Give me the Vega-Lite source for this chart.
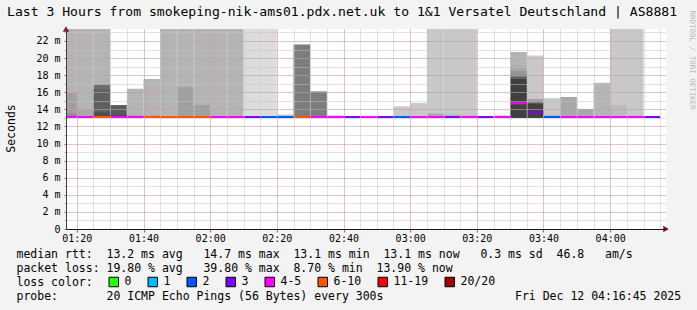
{
  "$schema": "https://vega.github.io/schema/vega-lite/v6.json",
  "width": 600,
  "height": 200,
  "autosize": {"type": "none"},
  "padding": {"left": 66, "top": 29, "right": 31, "bottom": 81},
  "background": "#f3f3f3",
  "config": {
    "view": {"fill": "white", "stroke": null},
    "font": "DejaVu Sans Mono",
    "axis": {"labelFont": "DejaVu Sans Mono", "titleFont": "DejaVu Sans Mono", "labelColor": "black", "titleColor": "black", "titleFontWeight": "normal"}
  },
  "title": {
    "text": "Last 3 Hours from smokeping-nik-ams01.pdx.net.uk to 1&1 Versatel Deutschland | AS8881",
    "anchor": "start", "frame": "group", "dx": -59, "offset": -15,
    "font": "DejaVu Sans Mono", "fontSize": 13.1, "fontWeight": "normal", "color": "black", "baseline": "middle"
  },
  "datasets": {
    "smoke": [
      {"start": 75, "end": 80, "lo": 13.0, "hi": 23.4, "density": 4},
      {"start": 75, "end": 80, "lo": 13.0, "hi": 15.9, "density": 6},
      {"start": 75, "end": 80, "lo": 13.0, "hi": 13.5, "density": 8},
      {"start": 80, "end": 85, "lo": 13.0, "hi": 23.4, "density": 4},
      {"start": 80, "end": 85, "lo": 13.0, "hi": 14.0, "density": 5},
      {"start": 85, "end": 90, "lo": 13.0, "hi": 23.4, "density": 4},
      {"start": 85, "end": 90, "lo": 13.0, "hi": 16.9, "density": 11},
      {"start": 85, "end": 90, "lo": 13.0, "hi": 16.35, "density": 12},
      {"start": 85, "end": 90, "lo": 13.0, "hi": 13.65, "density": 14},
      {"start": 90, "end": 95, "lo": 13.0, "hi": 14.5, "density": 13},
      {"start": 90, "end": 95, "lo": 13.0, "hi": 13.4, "density": 14},
      {"start": 95, "end": 100, "lo": 13.0, "hi": 16.4, "density": 4},
      {"start": 95, "end": 100, "lo": 13.0, "hi": 13.3, "density": 6},
      {"start": 100, "end": 105, "lo": 13.0, "hi": 17.55, "density": 4},
      {"start": 100, "end": 105, "lo": 13.0, "hi": 13.3, "density": 6},
      {"start": 105, "end": 110, "lo": 13.0, "hi": 23.4, "density": 4},
      {"start": 110, "end": 115, "lo": 13.0, "hi": 23.4, "density": 4},
      {"start": 110, "end": 115, "lo": 13.0, "hi": 16.6, "density": 6},
      {"start": 115, "end": 120, "lo": 13.0, "hi": 23.4, "density": 4},
      {"start": 115, "end": 120, "lo": 13.0, "hi": 14.5, "density": 6},
      {"start": 120, "end": 125, "lo": 13.0, "hi": 23.4, "density": 4},
      {"start": 125, "end": 130, "lo": 13.0, "hi": 23.4, "density": 4},
      {"start": 130, "end": 135, "lo": 13.0, "hi": 23.4, "density": 1},
      {"start": 135, "end": 140, "lo": 13.0, "hi": 23.4, "density": 1},
      {"start": 140, "end": 145, "lo": 13.0, "hi": 13.4, "density": 2},
      {"start": 145, "end": 150, "lo": 13.0, "hi": 21.6, "density": 10},
      {"start": 150, "end": 155, "lo": 13.0, "hi": 16.1, "density": 10},
      {"start": 155, "end": 160, "lo": 13.0, "hi": 13.3, "density": 2},
      {"start": 175, "end": 180, "lo": 13.0, "hi": 14.35, "density": 2},
      {"start": 180, "end": 185, "lo": 13.0, "hi": 14.75, "density": 2},
      {"start": 185, "end": 190, "lo": 13.0, "hi": 23.4, "density": 2},
      {"start": 185, "end": 190, "lo": 13.0, "hi": 13.5, "density": 5},
      {"start": 190, "end": 195, "lo": 13.0, "hi": 23.4, "density": 2},
      {"start": 190, "end": 195, "lo": 13.0, "hi": 13.4, "density": 4},
      {"start": 195, "end": 200, "lo": 13.0, "hi": 23.4, "density": 2},
      {"start": 195, "end": 200, "lo": 13.0, "hi": 13.3, "density": 4},
      {"start": 205, "end": 210, "lo": 13.0, "hi": 13.3, "density": 2},
      {"start": 210, "end": 215, "lo": 13.0, "hi": 20.7, "density": 4},
      {"start": 210, "end": 215, "lo": 13.0, "hi": 19.0, "density": 5},
      {"start": 210, "end": 215, "lo": 13.0, "hi": 18.5, "density": 7},
      {"start": 210, "end": 215, "lo": 13.0, "hi": 18.07, "density": 9},
      {"start": 210, "end": 215, "lo": 13.0, "hi": 17.8, "density": 12},
      {"start": 210, "end": 215, "lo": 13.0, "hi": 17.55, "density": 15},
      {"start": 215, "end": 220, "lo": 13.0, "hi": 20.3, "density": 2},
      {"start": 215, "end": 220, "lo": 13.0, "hi": 15.2, "density": 6},
      {"start": 215, "end": 220, "lo": 13.0, "hi": 14.95, "density": 9},
      {"start": 215, "end": 220, "lo": 13.0, "hi": 14.7, "density": 15},
      {"start": 220, "end": 225, "lo": 13.0, "hi": 15.3, "density": 2},
      {"start": 220, "end": 225, "lo": 13.0, "hi": 13.3, "density": 4},
      {"start": 225, "end": 230, "lo": 13.0, "hi": 15.45, "density": 5},
      {"start": 230, "end": 235, "lo": 13.0, "hi": 14.05, "density": 5},
      {"start": 235, "end": 240, "lo": 13.0, "hi": 17.1, "density": 4},
      {"start": 240, "end": 245, "lo": 13.0, "hi": 23.4, "density": 2},
      {"start": 240, "end": 245, "lo": 13.0, "hi": 14.5, "density": 3},
      {"start": 245, "end": 250, "lo": 13.0, "hi": 23.4, "density": 2},
      {"start": 245, "end": 250, "lo": 13.0, "hi": 13.3, "density": 3}
    ],
    "median": [
      {"start": 75, "end": 80, "rtt": 13.1, "loss": "4-5"},
      {"start": 80, "end": 85, "rtt": 13.1, "loss": "4-5"},
      {"start": 85, "end": 90, "rtt": 13.1, "loss": "6-10"},
      {"start": 90, "end": 95, "rtt": 13.1, "loss": "4-5"},
      {"start": 95, "end": 100, "rtt": 13.1, "loss": "4-5"},
      {"start": 100, "end": 105, "rtt": 13.1, "loss": "6-10"},
      {"start": 105, "end": 110, "rtt": 13.1, "loss": "6-10"},
      {"start": 110, "end": 115, "rtt": 13.1, "loss": "6-10"},
      {"start": 115, "end": 120, "rtt": 13.1, "loss": "6-10"},
      {"start": 120, "end": 125, "rtt": 13.1, "loss": "4-5"},
      {"start": 125, "end": 130, "rtt": 13.1, "loss": "4-5"},
      {"start": 130, "end": 135, "rtt": 13.1, "loss": "3"},
      {"start": 135, "end": 140, "rtt": 13.1, "loss": "2"},
      {"start": 140, "end": 145, "rtt": 13.1, "loss": "2"},
      {"start": 145, "end": 150, "rtt": 13.1, "loss": "6-10"},
      {"start": 150, "end": 155, "rtt": 13.1, "loss": "4-5"},
      {"start": 155, "end": 160, "rtt": 13.1, "loss": "4-5"},
      {"start": 160, "end": 165, "rtt": 13.1, "loss": "3"},
      {"start": 165, "end": 170, "rtt": 13.1, "loss": "4-5"},
      {"start": 170, "end": 175, "rtt": 13.1, "loss": "3"},
      {"start": 175, "end": 180, "rtt": 13.1, "loss": "2"},
      {"start": 180, "end": 185, "rtt": 13.1, "loss": "4-5"},
      {"start": 185, "end": 190, "rtt": 13.1, "loss": "4-5"},
      {"start": 190, "end": 195, "rtt": 13.1, "loss": "3"},
      {"start": 195, "end": 200, "rtt": 13.1, "loss": "4-5"},
      {"start": 200, "end": 205, "rtt": 13.1, "loss": "3"},
      {"start": 205, "end": 210, "rtt": 13.1, "loss": "4-5"},
      {"start": 210, "end": 215, "rtt": 14.7, "loss": "4-5"},
      {"start": 215, "end": 220, "rtt": 13.65, "loss": "3"},
      {"start": 220, "end": 225, "rtt": 13.1, "loss": "2"},
      {"start": 225, "end": 230, "rtt": 13.1, "loss": "4-5"},
      {"start": 230, "end": 235, "rtt": 13.1, "loss": "4-5"},
      {"start": 235, "end": 240, "rtt": 13.1, "loss": "4-5"},
      {"start": 240, "end": 245, "rtt": 13.1, "loss": "4-5"},
      {"start": 245, "end": 250, "rtt": 13.1, "loss": "4-5"},
      {"start": 250, "end": 255, "rtt": 13.1, "loss": "3"}
    ],
    "arrows": [
      {"t": 256.75, "v": 0, "dir": "x"},
      {"t": 76.75, "v": 23.4, "dir": "y"}
    ]
  },
  "layer": [
    {
      "data": {"name": "smoke"},
      "mark": {"type": "rect", "clip": true},
      "encoding": {
        "x": {
          "field": "start", "type": "quantitative",
          "scale": {"domain": [76.75, 256.75], "nice": false, "zero": false},
          "axis": {"orient": "bottom", "grid": true, "gridColor": "#c4c4c4", "gridOpacity": 1, "gridDash": [1, 1], "values": [80, 85, 90, 95, 100, 105, 110, 115, 120, 125, 130, 135, 140, 145, 150, 155, 160, 165, 170, 175, 180, 185, 190, 195, 200, 205, 210, 215, 220, 225, 230, 235, 240, 245, 250, 255], "labels": false, "ticks": false, "domain": false, "title": null, "zindex": 1}
        },
        "x2": {"field": "end"},
        "y": {
          "field": "lo", "type": "quantitative",
          "scale": {"domain": [0, 23.4], "nice": false, "zero": false},
          "axis": {"orient": "left", "grid": true, "gridColor": "#c4c4c4", "gridOpacity": 1, "gridDash": [1, 1], "values": [1, 2, 3, 4, 5, 6, 7, 8, 9, 10, 11, 12, 13, 14, 15, 16, 17, 18, 19, 20, 21, 22, 23], "labels": false, "ticks": true, "tickSize": 2, "tickColor": "#b0b0b0", "domain": false, "title": null, "zindex": 1}
        },
        "y2": {"field": "hi"},
        "color": {
          "field": "density", "type": "ordinal",
          "scale": {"domain": [1, 2, 3, 4, 5, 6, 7, 8, 9, 10, 11, 12, 13, 14, 15], "range": ["#dcdcdc", "#c8c8c8", "#bcbcbc", "#b4b4b4", "#a8a8a8", "#a0a0a0", "#969696", "#8c8c8c", "#808080", "#7d7d7d", "#6e6e6e", "#606060", "#5a5a5a", "#4e4e4e", "#404040"]},
          "legend": null
        }
      }
    },
    {
      "data": {"name": "median"},
      "mark": {"type": "rule", "strokeWidth": 2, "clip": true},
      "encoding": {
        "x": {
          "field": "start", "type": "quantitative",
          "axis": {
            "orient": "bottom", "grid": true, "gridColor": "#de5050", "gridOpacity": 0.4, "gridDash": [1, 1],
            "values": [80, 100, 120, 140, 160, 180, 200, 220, 240],
            "labelExpr": "'0' + floor(datum.value / 60) + ':' + (datum.value % 60 < 10 ? '0' : '') + (datum.value % 60)",
            "labelFontSize": 10, "labelPadding": 1, "labelOverlap": false, "labelFlush": false,
            "ticks": true, "tickSize": 3, "tickColor": "#de5050",
            "domain": true, "domainColor": "#1a1a1a", "domainWidth": 1, "zindex": 1,
            "title": ["median rtt:\u00a0\u00a013.2 ms avg\u00a0\u00a0\u00a014.7 ms max\u00a0\u00a013.1 ms min\u00a0\u00a013.1 ms now\u00a0\u00a0\u00a00.3 ms sd\u00a0\u00a046.8\u00a0\u00a0\u00a0am/s", "packet loss:\u00a019.80 % avg\u00a0\u00a0\u00a039.80 % max\u00a0\u00a08.70 % min\u00a0\u00a013.90 % now", "loss color:", "probe:\u00a0\u00a0\u00a0\u00a0\u00a0\u00a0\u00a020 ICMP Echo Pings (56 Bytes) every 300s\u00a0\u00a0\u00a0\u00a0\u00a0\u00a0\u00a0\u00a0\u00a0\u00a0\u00a0\u00a0\u00a0\u00a0\u00a0\u00a0\u00a0\u00a0\u00a0Fri Dec 12 04:16:45 2025"],
            "titleFontSize": 11.5, "titleAnchor": "start", "titleAlign": "left", "titleBaseline": "top",
            "titleX": -50, "titleY": 19, "titleLineHeight": 14
          }
        },
        "x2": {"field": "end"},
        "y": {
          "field": "rtt", "type": "quantitative",
          "axis": {
            "orient": "left", "grid": true, "gridColor": "#de5050", "gridOpacity": 0.4, "gridDash": [1, 1],
            "values": [0, 2, 4, 6, 8, 10, 12, 14, 16, 18, 20, 22],
            "labelExpr": "datum.value == 0 ? '0' : datum.value + ' m'",
            "labelFontSize": 10, "labelPadding": 4, "tickSize": 2, "tickColor": "#de5050",
            "domain": true, "domainColor": "#404040", "zindex": 1,
            "title": "Seconds", "titleFontSize": 11.5, "titleAngle": -90, "titleAlign": "center", "titleBaseline": "middle",
            "titleX": -55, "titleY": 99
          }
        },
        "stroke": {
          "field": "loss", "type": "nominal",
          "scale": {"domain": ["2", "3", "4-5", "6-10"], "range": ["#0059ff", "#7e00ff", "#ff00ff", "#ff5500"]},
          "legend": null
        }
      }
    },
    {
      "data": {"name": "median"},
      "mark": {"type": "point", "shape": "square", "filled": true, "opacity": 0},
      "encoding": {
        "x": {"field": "start", "type": "quantitative", "axis": null},
        "y": {"field": "rtt", "type": "quantitative", "axis": null},
        "fill": {
          "field": "loss", "type": "nominal",
          "scale": {"domain": ["0", "1", "2", "3", "4-5", "6-10", "11-19", "20/20"], "range": ["#26ff00", "#00b8ff", "#0059ff", "#7e00ff", "#ff00ff", "#ff5500", "#ff0000", "#a10000"]},
          "legend": {
            "orient": "none", "legendX": 42, "legendY": 247, "direction": "horizontal", "title": null,
            "padding": 0, "labelFont": "DejaVu Sans Mono", "labelFontSize": 11.5, "labelColor": "black", "labelOffset": 5,
            "symbolType": "square", "symbolSize": 90, "symbolStrokeColor": "black", "symbolStrokeWidth": 1, "symbolOpacity": 1,
            "columnPadding": 14
          }
        }
      }
    },
    {
      "data": {"name": "arrows"},
      "mark": {"type": "point", "filled": true, "color": "#8b1a1a", "size": 40, "opacity": 1, "clip": false},
      "encoding": {
        "x": {"field": "t", "type": "quantitative", "axis": null},
        "y": {
          "field": "v", "type": "quantitative",
          "axis": {"orient": "right", "labels": false, "ticks": false, "domain": false, "grid": false,
            "title": "RRDTOOL / TOBI OETIKER", "titleFontSize": 7.5, "titleFontWeight": "normal", "titleColor": "#b8b8b8",
            "titleAngle": 90, "titleAlign": "left", "titleBaseline": "middle", "titleX": 25, "titleY": -19}
        },
        "shape": {"field": "dir", "type": "nominal", "scale": {"domain": ["x", "y"], "range": ["triangle-right", "triangle-up"]}, "legend": null}
      }
    }
  ],
  "resolve": {"axis": {"x": "independent", "y": "independent"}}
}
